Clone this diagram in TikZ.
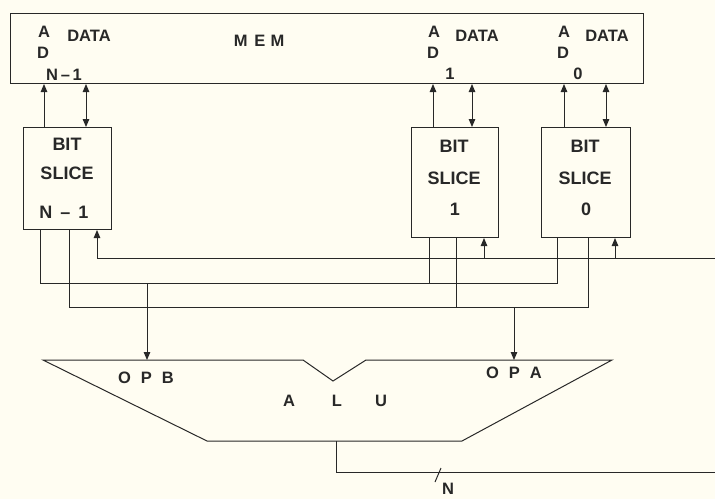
\documentclass[tikz,border=0pt]{standalone}
\usepackage{fontspec}
\setmainfont{Liberation Sans}
\usetikzlibrary{arrows.meta}
\definecolor{ink}{RGB}{40,40,40}
\definecolor{paper}{RGB}{255,253,242}
\begin{document}
\begin{tikzpicture}[x=1pt,y=-1pt,
  wire/.style={line width=1pt, draw=ink},
  arr/.style={wire,-{Triangle[length=8pt,width=6.5pt]}},
  darr/.style={wire,{Triangle[length=8pt,width=6.5pt]}-{Triangle[length=8pt,width=6.5pt]}},
  box/.style={draw=ink, line width=1pt, rectangle, inner sep=0pt, anchor=north west},
  lbl/.style={font=\fontsize{16.5}{19}\selectfont\bfseries, text=ink, inner sep=0pt},
  slbl/.style={font=\fontsize{18}{21}\selectfont\bfseries, text=ink, inner sep=0pt}
]
\fill[paper] (0,0) rectangle (715,499);
\useasboundingbox (0,0) rectangle (715,499);

% memory
\node[box, minimum width=633pt, minimum height=70pt] (mem) at (10,13) {};
\node[lbl] (mAn) at (44,32) {A};
\node[lbl] (mDn) at (43,53) {D};
\node[lbl] (mDATAn) at (89,36) {DATA};
\node[lbl] (mNn) at (64,75) {N\,--\,1};
\node[lbl] (mMEM) at (259,41) {M\hspace{7pt}E\hspace{5pt}M};
\node[lbl] (mA1) at (434,32) {A};
\node[lbl] (mD1) at (433,53) {D};
\node[lbl] (mDATA1) at (477,36) {DATA};
\node[lbl] (mN1) at (450,74) {1};
\node[lbl] (mA0) at (564,32) {A};
\node[lbl] (mD0) at (563,53) {D};
\node[lbl] (mDATA0) at (607,36) {DATA};
\node[lbl] (mN0) at (578,74) {0};

% bit slices
\node[box, minimum width=88pt, minimum height=102pt] (sN) at (23,127) {};
\node[box, minimum width=87pt, minimum height=110pt] (s1) at (411,127) {};
\node[box, minimum width=89pt, minimum height=110pt] (s0) at (541,127) {};
\node[slbl] (tN1) at (67,144) {BIT};
\node[slbl] (tN2) at (67,173) {SLICE};
\node[slbl] (tN3) at (64,212) {N\hspace{8pt}--\hspace{8pt}1};
\node[slbl] (t11) at (454,146) {BIT};
\node[slbl] (t12) at (454,178) {SLICE};
\node[slbl] (t13) at (455,209) {1};
\node[slbl] (t01) at (585,146) {BIT};
\node[slbl] (t02) at (585,178) {SLICE};
\node[slbl] (t03) at (586,209) {0};

% slice <-> memory
\draw[arr]  (44,0 |- sN.north) -- (44,0 |- mem.south);
\draw[darr] (86,0 |- sN.north) -- (86,0 |- mem.south);
\draw[arr]  (433,0 |- s1.north) -- (433,0 |- mem.south);
\draw[darr] (472,0 |- s1.north) -- (472,0 |- mem.south);
\draw[arr]  (564,0 |- s0.north) -- (564,0 |- mem.south);
\draw[darr] (606,0 |- s0.north) -- (606,0 |- mem.south);

% buses
\coordinate (bB) at (147,283);
\coordinate (bA) at (514,307);
\draw[wire] (40,0 |- sN.south) |- (557,283) -- (557,0 |- s0.south);
\draw[wire] (429,0 |- s1.south) -- (429,283);
\draw[wire] (69,0 |- sN.south) |- (588,307) -- (588,0 |- s0.south);
\draw[wire] (456,0 |- s1.south) -- (456,307);

% carry line
\coordinate (cin) at (715,258);
\draw[wire] (cin) -- (97,258);
\draw[arr] (97,258) -- (97,0 |- sN.south);
\draw[arr] (484,258) -- (484,0 |- s1.south);
\draw[arr] (615,258) -- (615,0 |- s0.south);

% ALU
\coordinate (opb) at (147,360);
\coordinate (opa) at (514,360);
\coordinate (aluout) at (336,441);
\draw[wire, line join=miter] (43,360) -- (303,360) -- (333,381) -- (366,360) -- (612,360) -- (462,441) -- (207,441) -- cycle;
\draw[arr] (bB) -- (opb);
\draw[arr] (bA) -- (opa);
\node[lbl] (lopb) at (146,378) {O\hspace{10pt}P\hspace{10pt}B};
\node[lbl] (lopa) at (514,373) {O\hspace{10pt}P\hspace{10pt}A};
\node[lbl] (lalu) at (335,401) {A\hspace{37pt}L\hspace{33pt}U};

% output
\coordinate (out) at (715,472);
\draw[wire] (aluout) |- (out);
\draw[wire] (435,482) -- (441,468);
\node[lbl] (lN) at (448,489) {N};
\end{tikzpicture}
\end{document}
